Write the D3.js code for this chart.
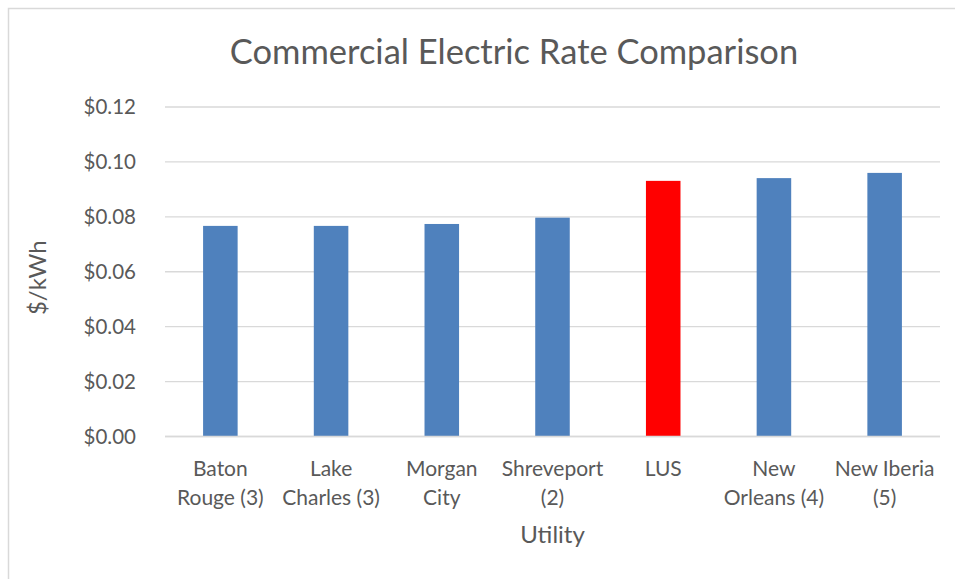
<!DOCTYPE html>
<html>
<head>
<meta charset="utf-8">
<script src="https://cdn.jsdelivr.net/npm/d3@7"></script>
<style>
  html, body { margin: 0; padding: 0; background: #fff; }
  svg { display: block; font-family: Lato, "Open Sans", sans-serif; }
</style>
</head>
<body>
<svg id="chart" width="955" height="579"></svg>
<script>
// Commercial electric rates by utility ($/kWh)
const categories = [
  ["Baton", "Rouge (3)"],
  ["Lake", "Charles (3)"],
  ["Morgan", "City"],
  ["Shreveport", "(2)"],
  ["LUS"],
  ["New", "Orleans (4)"],
  ["New Iberia", "(5)"]
];
const rates = [0.0767, 0.0767, 0.0774, 0.0797, 0.0931, 0.0941, 0.0960];
const highlight = "LUS";
const yTicks = [0, 0.02, 0.04, 0.06, 0.08, 0.10, 0.12];

const svg = d3.select("#chart");
const W = 955, H = 579;
const plot = { left: 165, right: 940, top: 107, bottom: 436.5 };
const textColor = "#595959";

// chart frame
svg.append("path")
  .attr("d", `M8.5,${H} V8.5 H${W}`)
  .attr("fill", "none")
  .attr("stroke", "#d9d9d9")
  .attr("stroke-width", 1.5);

const names = categories.map(c => c.join(" "));
const x = d3.scaleBand().domain(names).range([plot.left, plot.right]).paddingInner(0).paddingOuter(0);
const y = d3.scaleLinear().domain([0, 0.12]).range([plot.bottom, plot.top]);

// gridlines
svg.append("g")
  .selectAll("line")
  .data(yTicks)
  .join("line")
  .attr("x1", plot.left).attr("x2", plot.right)
  .attr("y1", d => y(d)).attr("y2", d => y(d))
  .attr("stroke", "#d9d9d9")
  .attr("stroke-width", 1.3);

// y tick labels
const yAxis = d3.axisLeft(y).tickValues(yTicks).tickFormat(d3.format("$.2f")).tickSize(0).tickPadding(0);
const gy = svg.append("g").attr("transform", `translate(136,0)`).call(yAxis);
gy.select(".domain").remove();
gy.selectAll("text")
  .attr("fill", textColor)
  .attr("font-size", 20.5)
  .attr("font-family", "Lato, 'Open Sans', sans-serif");

// bars
const barW = x.step() * 0.312;
svg.append("g")
  .selectAll("rect")
  .data(rates)
  .join("rect")
  .attr("x", (d, i) => x(names[i]) + x.bandwidth() / 2 - barW / 2)
  .attr("width", barW)
  .attr("y", d => y(d))
  .attr("height", d => y(0) - y(d))
  .attr("fill", (d, i) => names[i] === highlight ? "#ff0000" : "#4f81bd");

// x axis line
svg.append("line")
  .attr("x1", plot.left).attr("x2", plot.right)
  .attr("y1", y(0)).attr("y2", y(0))
  .attr("stroke", "#d9d9d9").attr("stroke-width", 1.3);

// category labels
const xl = svg.append("g")
  .selectAll("text")
  .data(categories)
  .join("text")
  .attr("x", (d, i) => x(names[i]) + x.bandwidth() / 2)
  .attr("y", 476)
  .attr("text-anchor", "middle")
  .attr("fill", textColor)
  .attr("font-size", 21);
xl.selectAll("tspan")
  .data(d => d)
  .join("tspan")
  .attr("x", function () { return this.parentNode.getAttribute("x"); })
  .attr("dy", (d, i) => i === 0 ? 0 : 29)
  .text(d => d);

// axis titles
svg.append("text")
  .attr("x", (plot.left + plot.right) / 2)
  .attr("y", 543)
  .attr("text-anchor", "middle")
  .attr("fill", textColor)
  .attr("font-size", 24)
  .text("Utility");

svg.append("text")
  .attr("transform", `translate(46,${(plot.top + plot.bottom) / 2 + 6}) rotate(-90)`)
  .attr("text-anchor", "middle")
  .attr("fill", textColor)
  .attr("font-size", 24)
  .text("$/kWh");

// chart title
svg.append("text")
  .attr("x", 514)
  .attr("y", 64)
  .attr("text-anchor", "middle")
  .attr("fill", textColor)
  .attr("font-size", 34.5)
  .text("Commercial Electric Rate Comparison");
</script>
</body>
</html>
